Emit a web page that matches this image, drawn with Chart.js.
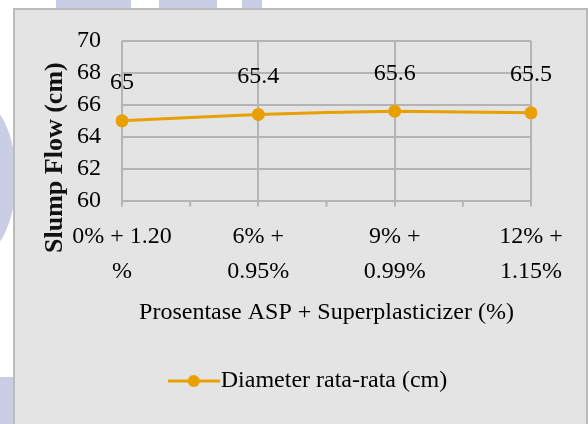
<!DOCTYPE html>
<html>
<head>
<meta charset="utf-8">
<script src="https://cdn.jsdelivr.net/npm/chart.js@4.4.0/dist/chart.umd.min.js"></script>
<style>
html, body { margin: 0; padding: 0; background: #fff; width: 588px; height: 424px; overflow: hidden; position: relative; }
.wm { position: absolute; background: #c9cde6; }
#box { position: absolute; left: 13px; top: 8px; width: 571px; height: 420px; background: #e4e4e4; border: 2px solid #bbbbbb; }
#wrap { position: absolute; left: 0; top: 0; width: 569px; height: 414px; }
</style>
</head>
<body>
<!-- faint watermark behind the chart box -->
<div class="wm" style="left:56px;top:0;width:75px;height:10px;"></div>
<div class="wm" style="left:159px;top:0;width:58px;height:10px;"></div>
<div class="wm" style="left:242px;top:0;width:20px;height:10px;"></div>
<div class="wm" style="left:-60px;top:100px;width:76px;height:156px;border-radius:50%;"></div>
<div class="wm" style="left:0;top:377px;width:14px;height:47px;"></div>

<div id="box">
  <div id="wrap"><canvas id="chart" width="569" height="414"></canvas></div>
</div>

<script>
// data
const categories = [['0% + 1.20', '%'], ['6% +', '0.95%'], ['9% +', '0.99%'], ['12% +', '1.15%']];
const slumpFlow = [65, 65.4, 65.6, 65.5];
const yMin = 60, yMax = 70, yStep = 2;
const seriesLabel = 'Diameter rata-rata (cm)';
const xTitle = 'Prosentase ASP + Superplasticizer (%)';
const yTitle = 'Slump Flow (cm)';

const FONT = "'Liberation Serif', 'Times New Roman', serif";
const lineColor = '#e8a000';
const gridColor = '#b4b4b4';

Chart.defaults.font.family = FONT;
Chart.defaults.color = '#000';

// legend icon: line with a dot in the middle
const legendIcon = document.createElement('canvas');
legendIcon.width = 52;
legendIcon.height = 14;
(function () {
    const c = legendIcon.getContext('2d');
    c.strokeStyle = lineColor;
    c.lineWidth = 3;
    c.beginPath();
    c.moveTo(0, 7);
    c.lineTo(52, 7);
    c.stroke();
    c.fillStyle = lineColor;
    c.beginPath();
    c.arc(26, 7, 6, 0, Math.PI * 2);
    c.fill();
})();

// value labels above the points
const valueLabels = {
    id: 'valueLabels',
    afterDatasetsDraw(chart) {
        const ctx = chart.ctx;
        const meta = chart.getDatasetMeta(0);
        const values = chart.data.datasets[0].data;
        ctx.save();
        ctx.font = '24px ' + FONT;
        ctx.fillStyle = '#000';
        ctx.textAlign = 'center';
        ctx.textBaseline = 'middle';
        meta.data.forEach((pt, i) => {
            ctx.fillText(String(values[i]), pt.x, pt.y - 38);
        });
        ctx.restore();
    }
};

// small tick marks halfway between categories
const minorTicks = {
    id: 'minorTicks',
    afterDraw(chart) {
        const x = chart.scales.x;
        const ctx = chart.ctx;
        ctx.save();
        ctx.strokeStyle = gridColor;
        ctx.lineWidth = 2;
        for (let i = 0; i < x.ticks.length - 1; i++) {
            const mid = (x.getPixelForTick(i) + x.getPixelForTick(i + 1)) / 2;
            ctx.beginPath();
            ctx.moveTo(mid, x.top);
            ctx.lineTo(mid, x.top + 6);
            ctx.stroke();
        }
        ctx.restore();
    }
};

// y title, placed lower than the plot centre like the original
const yAxisTitle = {
    id: 'yAxisTitle',
    afterDraw(chart) {
        const area = chart.chartArea;
        const ctx = chart.ctx;
        ctx.save();
        ctx.translate(area.left - 67, area.bottom - 43);
        ctx.rotate(-Math.PI / 2);
        ctx.font = 'bold 26px ' + FONT;
        ctx.fillStyle = '#111';
        ctx.textAlign = 'center';
        ctx.textBaseline = 'middle';
        ctx.fillText(yTitle, 0, 0);
        ctx.restore();
    }
};

new Chart(document.getElementById('chart'), {
    type: 'line',
    data: {
        labels: categories,
        datasets: [{
            label: seriesLabel,
            data: slumpFlow,
            borderColor: lineColor,
            backgroundColor: lineColor,
            borderWidth: 3,
            pointRadius: 6.5,
            pointBackgroundColor: lineColor,
            pointBorderWidth: 0,
            tension: 0.15,
            fill: false
        }]
    },
    options: {
        responsive: false,
        animation: false,
        layout: { padding: { left: 27, right: 0, top: 31, bottom: 21 } },
        plugins: {
            tooltip: { enabled: false },
            legend: {
                position: 'bottom',
                labels: {
                    usePointStyle: true,
                    pointStyleWidth: 30,
                    padding: 10,
                    color: '#000',
                    font: { size: 24 },
                    generateLabels: () => [{
                        text: seriesLabel,
                        pointStyle: legendIcon,
                        fillStyle: lineColor,
                        strokeStyle: lineColor,
                        lineWidth: 0,
                        fontColor: '#000',
                        datasetIndex: 0
                    }]
                }
            }
        },
        scales: {
            x: {
                offset: false,
                grid: { color: gridColor, lineWidth: 2, tickLength: 6, tickColor: gridColor },
                border: { color: gridColor, width: 2 },
                ticks: {
                    color: '#000',
                    font: { size: 24, lineHeight: 1.45 },
                    padding: 13,
                    maxRotation: 0,
                    autoSkip: false
                },
                title: {
                    display: true,
                    text: xTitle,
                    color: '#000',
                    font: { size: 24 },
                    padding: { top: -4, bottom: 32 }
                }
            },
            y: {
                min: yMin,
                max: yMax,
                ticks: { stepSize: yStep, autoSkip: false, padding: 21, color: '#000', font: { size: 24 } },
                grid: { color: gridColor, lineWidth: 2, drawTicks: false },
                border: { display: false },
                afterFit: s => { s.width = 80; s.paddingTop = 0; s.paddingBottom = 0; }
            },
            yRight: {
                position: 'right',
                display: true,
                ticks: { display: false },
                grid: { display: false },
                border: { display: false },
                afterFit: s => { s.width = 53; }
            }
        }
    },
    plugins: [valueLabels, minorTicks, yAxisTitle]
});
</script>
</body>
</html>
